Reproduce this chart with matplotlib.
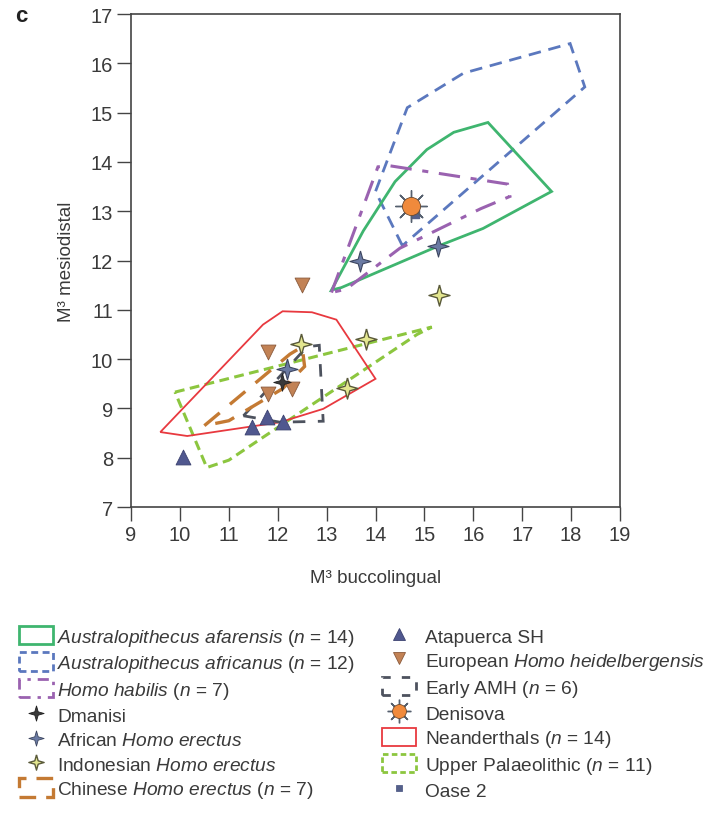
import matplotlib
matplotlib.use("Agg")
import matplotlib.pyplot as plt
from matplotlib.patches import Polygon, Patch
from matplotlib.lines import Line2D
import numpy as np

plt.rcParams['font.family'] = ['Liberation Sans', 'DejaVu Sans']
plt.rcParams['mathtext.fontset'] = 'custom'
plt.rcParams['mathtext.rm'] = 'Liberation Sans'
plt.rcParams['mathtext.it'] = 'Liberation Sans:italic'

# ---- convex hulls (buccolingual, mesiodistal) ----
afarensis_x = [13.1, 13.75, 14.4, 15.05, 15.6, 16.3, 17.6, 16.2, 15.3, 13.3]
afarensis_y = [11.4, 12.6, 13.6, 14.25, 14.6, 14.8, 13.4, 12.65, 12.3, 11.45]

africanus_x = [14.55, 14.0, 14.65, 15.8, 17.98, 18.28]
africanus_y = [12.3, 13.4, 15.1, 15.8, 16.4, 15.52]

habilis_x = [13.1, 14.05, 14.3, 16.7, 16.75, 16.15, 14.5, 13.4]
habilis_y = [11.35, 13.9, 13.92, 13.55, 13.3, 13.05, 12.25, 11.42]

chinese_x = [10.5, 12.25, 12.5, 12.55, 12.1, 11.0]
chinese_y = [8.65, 10.1, 10.25, 9.85, 9.4, 8.75]

early_amh_x = [11.3, 12.6, 12.85, 12.93, 12.05]
early_amh_y = [8.85, 10.25, 10.28, 8.74, 8.72]

neander_x = [9.6, 11.7, 12.1, 12.7, 13.2, 14.0, 12.93, 12.05, 10.15]
neander_y = [8.52, 10.7, 10.97, 10.95, 10.8, 9.6, 8.99, 8.72, 8.44]

upper_pal_x = [9.9, 15.15, 14.85, 11.0, 10.55]
upper_pal_y = [9.33, 10.65, 10.5, 7.95, 7.8]

# ---- individual specimens ----
dmanisi_x = [12.08]
dmanisi_y = [9.53]

afr_erectus_x = [12.2, 13.68, 15.28]
afr_erectus_y = [9.8, 12.0, 12.3]

indo_erectus_x = [12.47, 13.8, 13.42, 15.3]
indo_erectus_y = [10.3, 10.4, 9.42, 11.3]

atapuerca_x = [10.06, 11.47, 11.78, 12.1]
atapuerca_y = [8.01, 8.62, 8.82, 8.72]

heidel_x = [12.5, 11.8, 11.8, 12.3]
heidel_y = [11.5, 10.15, 9.3, 9.4]

denisova_x = [14.73]
denisova_y = [13.1]

oase_x = [14.8]
oase_y = [12.95]

xticks = list(range(9, 20))
yticks = list(range(7, 18))

# ---- colours ----
c_afar = '#3fb56f'
c_afri = '#5b78be'
c_habi = '#9a62b0'
c_chin = '#c47a33'
c_amh = '#4d525e'
c_nean = '#e8393f'
c_upal = '#8cc63f'
c_ata = '#50588f'
c_hei = '#c28255'
c_indo = '#e3e68f'
c_afr = '#6a7aa3'
c_dma = '#3a3a3a'
c_den = '#f08a3c'
c_txt = '#3a3a3a'

star4 = [(0, 1), (0.22, 0.22), (1, 0), (0.22, -0.22), (0, -1),
         (-0.22, -0.22), (-1, 0), (-0.22, 0.22), (0, 1)]

fig = plt.figure(figsize=(7.25, 8.28), dpi=100)
ax = fig.add_axes([131 / 725, 1 - 508 / 828, 489 / 725, 493 / 828])

ax.set_xlim(9, 19)
ax.set_ylim(7, 17)
ax.set_xticks(xticks)
ax.set_yticks(yticks)
ax.tick_params(direction='out', length=10, width=1.0, labelsize=14.5,
               colors='#444444', labelcolor=c_txt, pad=3)
for s in ax.spines.values():
    s.set_linewidth(1.2)
    s.set_color('#444444')

hulls = [
    (upper_pal_x, upper_pal_y, c_upal, (0, (3.2, 1.8)), 2.2),
    (neander_x, neander_y, c_nean, '-', 1.3),
    (early_amh_x, early_amh_y, c_amh, (0, (4.5, 4.5)), 2.0),
    (chinese_x, chinese_y, c_chin, (0, (6, 4)), 2.4),
    (africanus_x, africanus_y, c_afri, (0, (4.5, 2.8)), 2.0),
    (afarensis_x, afarensis_y, c_afar, '-', 2.0),
    (habilis_x, habilis_y, c_habi, (0, (7, 3.5, 2, 3.5)), 2.2),
]
for hx, hy, col, ls, lw in hulls:
    ax.add_patch(Polygon(np.column_stack([hx, hy]), closed=True, fill=False,
                         edgecolor=col, linestyle=ls, linewidth=lw,
                         joinstyle='miter', zorder=2))

ax.scatter(oase_x, oase_y, marker='s', s=28, color='#55608a', zorder=4)
ax.scatter(atapuerca_x, atapuerca_y, marker='^', s=115, color=c_ata,
           edgecolor='#3c4270', linewidth=0.6, zorder=5)
ax.scatter(heidel_x, heidel_y, marker='v', s=115, color=c_hei,
           edgecolor='#8a5a3c', linewidth=0.6, zorder=5)
ax.scatter(afr_erectus_x, afr_erectus_y, marker=star4, s=230, color=c_afr,
           edgecolor='#3d4660', linewidth=0.8, zorder=6)
ax.scatter(dmanisi_x, dmanisi_y, marker=star4, s=160, color=c_dma,
           edgecolor='#222222', linewidth=0.6, zorder=6)
ax.scatter(indo_erectus_x, indo_erectus_y, marker=star4, s=230, color=c_indo,
           edgecolor='#5a5a3a', linewidth=1.0, zorder=6)
ax.scatter(denisova_x, denisova_y, marker=(8, 2, 0), s=520, color='#55606e',
           linewidth=1.0, zorder=6)
ax.scatter(denisova_x, denisova_y, marker='o', s=170, color=c_den,
           edgecolor='#6b4a30', linewidth=0.6, zorder=7)

ax.set_xlabel('M³ buccolingual', fontsize=13.5, color=c_txt, labelpad=18)
ax.set_ylabel('M³ mesiodistal', fontsize=13.5, color=c_txt, labelpad=11)

fig.text(15 / 725, 1 - 16 / 828, 'c', fontsize=16, fontweight='bold',
         va='center', ha='left', color='#222222')

# ---- legend ----
def hull_patch(col, ls, lw):
    return Patch(facecolor='none', edgecolor=col, linestyle=ls, linewidth=lw)

def mk(marker, col, ec, size, lw=0.6):
    return Line2D([], [], linestyle='none', marker=marker, markersize=size,
                  markerfacecolor=col, markeredgecolor=ec, markeredgewidth=lw)

left_handles = [
    hull_patch(c_afar, '-', 2.0),
    hull_patch(c_afri, (0, (2.5, 1.6)), 2.0),
    hull_patch(c_habi, (0, (4, 2.5, 1.2, 2.5)), 2.0),
    mk(star4, c_dma, '#222222', 11),
    mk(star4, c_afr, '#3d4660', 11),
    mk(star4, c_indo, '#5a5a3a', 11, 1.0),
    hull_patch(c_chin, (0, (5, 3)), 2.4),
]
left_labels = [
    r'$\it{Australopithecus\ afarensis}$ ($\it{n}$ = 14)',
    r'$\it{Australopithecus\ africanus}$ ($\it{n}$ = 12)',
    r'$\it{Homo\ habilis}$ ($\it{n}$ = 7)',
    'Dmanisi',
    r'African $\it{Homo\ erectus}$',
    r'Indonesian $\it{Homo\ erectus}$',
    r'Chinese $\it{Homo\ erectus}$ ($\it{n}$ = 7)',
]
den_handle = (Line2D([], [], linestyle='none', marker=(8, 2, 0), markersize=17,
                     color='#55606e', markeredgewidth=1.0),
              mk('o', c_den, '#6b4a30', 10))
right_handles = [
    mk('^', c_ata, '#3c4270', 8),
    mk('v', c_hei, '#8a5a3c', 8),
    hull_patch(c_amh, (0, (3, 4)), 2.0),
    den_handle,
    hull_patch(c_nean, '-', 1.3),
    hull_patch(c_upal, (0, (2, 1.2)), 2.0),
    mk('s', '#55608a', '#55608a', 5),
]
right_labels = [
    'Atapuerca SH',
    r'European $\it{Homo\ heidelbergensis}$',
    r'Early AMH ($\it{n}$ = 6)',
    'Denisova',
    r'Neanderthals ($\it{n}$ = 14)',
    r'Upper Palaeolithic ($\it{n}$ = 11)',
    'Oase 2',
]

leg_kw = dict(frameon=False, fontsize=13.8, handlelength=1.75, handleheight=1.1,
              labelspacing=0.245, borderpad=0, borderaxespad=0, labelcolor=c_txt)
fig.legend(left_handles, left_labels, loc='upper left', handletextpad=0.25,
           bbox_to_anchor=(19 / 725, 1 - 627 / 828), **leg_kw)
fig.legend(right_handles, right_labels, loc='upper left', handletextpad=0.5,
           bbox_to_anchor=(382 / 725, 1 - 627 / 828), **leg_kw)

fig.savefig('out.png', dpi=100, facecolor='white')
